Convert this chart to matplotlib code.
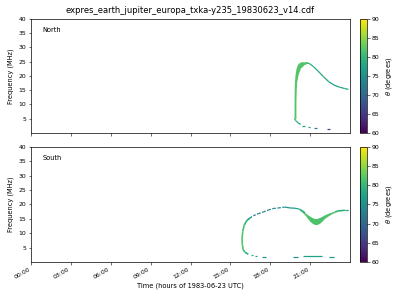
import numpy as np
import matplotlib
matplotlib.use('Agg')
import matplotlib.pyplot as plt
from matplotlib.collections import LineCollection
from matplotlib.colors import Normalize
from matplotlib.cm import ScalarMappable

title = "expres_earth_jupiter_europa_txka-y235_19830623_v14.cdf"
xtick_hours = [0, 3, 6, 9, 12, 15, 18, 21]
xtick_labels = ["00:00", "03:00", "06:00", "09:00", "12:00", "15:00", "18:00", "21:00"]
yticks = [5, 10, 15, 20, 25, 30, 35, 40]
cbar_ticks = [60, 65, 70, 75, 80, 85, 90]

# ---------------- North ----------------
north_thick_f = [5.0, 10.0, 15.0, 18.0, 20.3, 22.7, 24.0, 24.6, 25.0]
north_thick_tl = [19.79, 19.79, 19.80, 19.82, 19.86, 19.94, 20.04, 20.15, 20.30]
north_thick_tr = [19.93, 19.93, 19.95, 19.99, 20.08, 20.26, 20.55, 20.85, 20.75]
north_thick_th = 82

north_tail_t = [20.75, 21.0, 21.25, 21.6, 22.0, 22.4, 22.8, 23.2, 23.6, 23.88]
north_tail_f = [24.7, 24.2, 23.3, 21.7, 19.8, 18.0, 16.8, 16.1, 15.6, 15.3]
north_tail_th = [80, 79, 78.5, 78, 78, 77.5, 77.5, 77.5, 77.5, 77.5]

north_low_t = [19.82, 19.90, 19.99, 20.12, 20.29]
north_low_f = [5.0, 4.4, 4.0, 3.5, 3.0]
north_low_th = [81, 79, 78, 78, 77.5]

north_dash_t0 = [20.42, 20.82, 21.32, 22.25]
north_dash_t1 = [20.60, 20.97, 21.50, 22.48]
north_dash_f = [2.6, 2.2, 1.8, 1.4]
north_dash_th = [77, 76.5, 73, 67]

# ---------------- South ----------------
south_arc_t = [16.35, 16.10, 15.97, 15.90, 15.88, 15.93, 16.03, 16.23, 16.48]
south_arc_f = [2.7, 3.4, 4.2, 6.0, 8.3, 10.6, 12.7, 14.4, 15.3]
south_arc_th = [79, 80, 81.5, 82, 82, 82, 81, 79, 76]

south_dot_t = [16.48, 16.73, 17.10, 17.48, 17.86, 18.23, 18.61, 19.11]
south_dot_f = [15.3, 16.1, 16.8, 17.4, 18.1, 18.6, 18.8, 19.1]
south_dot_th = [75, 73, 72.5, 72.5, 73, 73.5, 74, 75]

south_top_t = [19.11, 19.49, 19.86, 20.19, 20.40, 20.62]
south_top_f = [19.1, 18.8, 18.7, 18.4, 17.9, 17.1]
south_top_th = [75, 76, 77, 78, 78, 78.5]

south_dip_t = [20.19, 20.40, 20.62, 20.80, 20.99, 21.18, 21.37, 21.56, 21.75,
               21.93, 22.12, 22.38, 22.63, 22.88, 23.12, 23.40, 23.63, 23.88]
south_dip_up = [18.4, 17.9, 17.1, 16.5, 15.9, 15.4, 15.1, 15.2, 15.6,
                16.0, 16.5, 17.0, 17.4, 17.7, 18.0, 18.1, 18.1, 18.1]
south_dip_lo = [18.0, 17.3, 16.3, 15.2, 14.1, 13.4, 13.0, 13.1, 13.6,
                14.4, 15.3, 16.1, 16.8, 17.3, 17.7, 17.8, 17.9, 17.9]
south_dip_th = 81.5

south_end_t = [22.88, 23.12, 23.40, 23.63, 23.88]
south_end_f = [17.5, 17.85, 17.95, 18.0, 18.0]
south_end_th = [79.5, 79, 78, 78, 78]

south_dash_t0 = [16.55, 16.88, 17.38, 19.74, 20.49, 22.45]
south_dash_t1 = [16.68, 17.00, 17.68, 20.08, 21.87, 22.82]
south_dash_f = [2.3, 2.0, 1.75, 1.75, 2.0, 1.75]
south_dash_th = [78, 77, 76, 76, 77, 76.5]

cmap = plt.get_cmap('viridis')
norm = Normalize(60, 90)


def trace(ax, t, f, th, lw, ls='solid'):
    pts = np.column_stack([t, f])
    segs = np.stack([pts[:-1], pts[1:]], axis=1)
    th = np.asarray(th, dtype=float)
    thm = (th[:-1] + th[1:]) / 2
    lc = LineCollection(segs, colors=cmap(norm(thm)), linewidths=lw,
                        linestyles=ls, capstyle='butt')
    ax.add_collection(lc)


fig = plt.figure(figsize=(4, 3), dpi=100)
ax1 = fig.add_axes([0.0775, 0.5567, 0.7975, 0.38])
ax2 = fig.add_axes([0.0775, 0.1267, 0.7975, 0.3833])
cax1 = fig.add_axes([0.9, 0.5567, 0.0175, 0.38])
cax2 = fig.add_axes([0.9, 0.1267, 0.0175, 0.3833])

# North
ax1.fill_betweenx(north_thick_f, north_thick_tl, north_thick_tr,
                  color=cmap(norm(north_thick_th)), lw=0)
trace(ax1, north_tail_t, north_tail_f, north_tail_th, 0.9)
trace(ax1, north_low_t, north_low_f, north_low_th, 0.9)
ax1.hlines(north_dash_f, north_dash_t0, north_dash_t1,
           colors=cmap(norm(np.array(north_dash_th))), lw=0.9)

# South
trace(ax2, south_arc_t, south_arc_f, south_arc_th, 1.2)
trace(ax2, south_dot_t, south_dot_f, south_dot_th, 0.9, ls=(0, (2, 1.2)))
trace(ax2, south_top_t, south_top_f, south_top_th, 0.9)
ax2.fill_between(south_dip_t, south_dip_lo, south_dip_up,
                 color=cmap(norm(south_dip_th)), lw=0)
trace(ax2, south_end_t, south_end_f, south_end_th, 0.9)
ax2.hlines(south_dash_f, south_dash_t0, south_dash_t1,
           colors=cmap(norm(np.array(south_dash_th))), lw=0.9)

for ax, name in [(ax1, "North"), (ax2, "South")]:
    ax.set_xlim(0, 24)
    ax.set_ylim(0, 40)
    ax.set_yticks(yticks)
    ax.set_xticks(xtick_hours)
    ax.set_ylabel("Frequency (MHz)", fontsize=4.8, labelpad=3)
    ax.tick_params(labelsize=4.4, length=1.8, width=0.4, pad=1.5)
    for s in ax.spines.values():
        s.set_linewidth(0.5)
    ax.text(0.037, 0.9, name, transform=ax.transAxes, fontsize=4.8,
            va='center', ha='left')

ax1.set_xticklabels([])
ax2.set_xticklabels(xtick_labels, rotation=30, ha='right')
ax2.set_xlabel("Time (hours of 1983-06-23 UTC)", fontsize=4.8, labelpad=2)
ax1.set_title(title, fontsize=6.0, pad=4)

sm = ScalarMappable(norm=norm, cmap=cmap)
for cax in (cax1, cax2):
    cb = fig.colorbar(sm, cax=cax, ticks=cbar_ticks)
    cb.ax.tick_params(labelsize=4.4, length=1.8, width=0.4, pad=1.5)
    cb.outline.set_linewidth(0.5)
    cb.set_label(r"$\theta$ (degrees)", fontsize=4.8, labelpad=3)

fig.savefig("out.png", dpi=100)
